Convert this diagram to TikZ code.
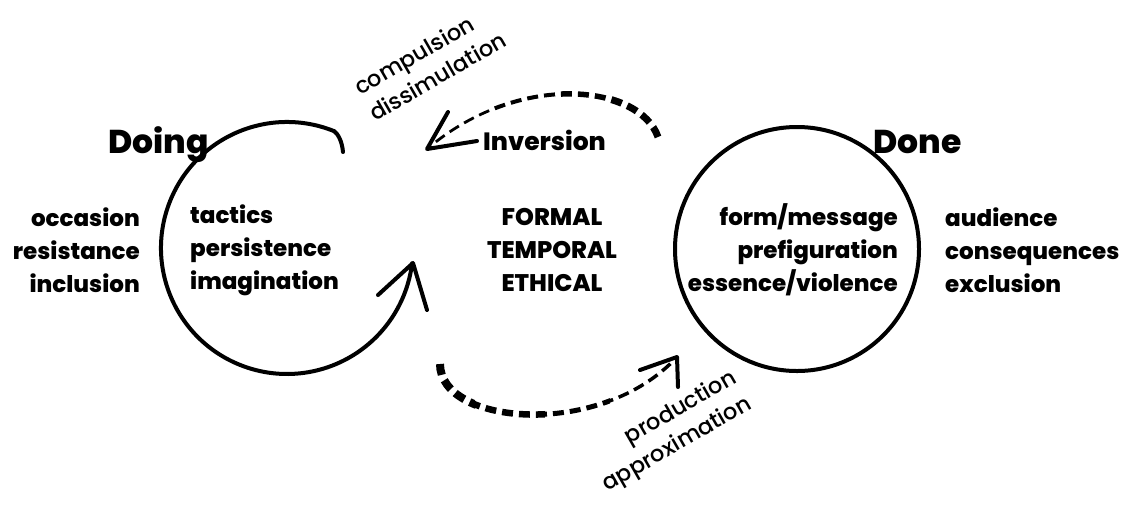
\documentclass[tikz,border=0pt]{standalone}
\usepackage{fontspec}
\setmainfont{Poppins}[UprightFont={* Medium}, BoldFont={* ExtraBold}]
\usetikzlibrary{calc}
\begin{document}
\begin{tikzpicture}[x=1pt,y=-1pt,
  lbl/.style={font=\bfseries\fontsize{23}{33}\selectfont, inner sep=0pt},
  ttl/.style={font=\bfseries\fontsize{33}{36}\selectfont, inner sep=0pt},
  rot/.style={font=\fontsize{22.5}{30}\selectfont, inner sep=0pt},
  ring/.style={line width=4pt},
  dsh/.style={dash pattern=on 11pt off 6pt},
  barb/.style={line width=4pt, line cap=round, line join=round}
]
\useasboundingbox[fill=white] (0,0) rectangle (1123,504);

% texts
\node[ttl, anchor=base west] (doing) at (108,153) {Doing};
\node[ttl, anchor=base west] (done) at (873,153) {Done};
\node[lbl, align=right, anchor=east] (ctx) at (140,250) {occasion\\resistance\\inclusion};
\node[lbl, align=left, anchor=west] (tac) at (190,250) {tactics\\persistence\\imagination};
\node[lbl, font=\bfseries\fontsize{24}{33}\selectfont, align=center] (fte) at (552,250) {FORMAL\\TEMPORAL\\ETHICAL};
\node[lbl, align=right, anchor=east] (form) at (898,250) {form/message\\prefiguration\\essence/violence};
\node[lbl, align=left, anchor=west] (aud) at (945,250) {audience\\consequences\\exclusion};
\node[lbl, font=\bfseries\fontsize{25}{33}\selectfont, anchor=west] (inv) at (483,140) {Inversion};
\node[rot, align=left, rotate=30] (comp) at (430,63) {compulsion\\dissimulation};
\node[rot, align=right, rotate=30] (prod) at (670,432) {production\\approximation};

% right circle
\node[draw, circle, line width=4pt, minimum size=244pt, inner sep=0pt] (donec) at (797,249) {};

% left ring with arrow
\coordinate (lc) at (287,248);
\coordinate (lstart) at (343,152);
\coordinate (ltip) at (413,263);
\draw[ring, line cap=round] (lstart) .. controls (342,141) and (338,134) .. ($(lc)+(-68:126)$)
  arc[start angle=-68, end angle=-353, radius=126];
\draw[barb] ($(ltip)+(-35,32)$) -- (ltip) -- ($(ltip)+(14,47)$);

% top dashed arrow (Done -> Doing)
\coordinate (t0) at (658,137);
\coordinate (t1) at (427,149);
\foreach \xa/\xb/\w in {610/720/7, 555/610/5.5, 490/555/4, 380/490/2.8}{
  \begin{scope}
    \clip (\xa,0) rectangle (\xb,220);
    \draw[line width=\w pt, dsh] (t0) .. controls (640,85) and (520,70) .. (t1);
  \end{scope}
}
\draw[barb] (448,112) -- (t1) -- (477,141);

% bottom dashed arrow (Doing -> Done)
\coordinate (b0) at (440,364);
\coordinate (b1) at (677,357);
\foreach \xa/\xb/\w in {420/475/8, 475/545/6.5, 545/610/5, 610/700/3.5}{
  \begin{scope}
    \clip (\xa,340) rectangle (\xb,460);
    \draw[line width=\w pt, dsh] (b0) .. controls (440,425) and (600,440) .. (b1);
  \end{scope}
}
\draw[barb] (640,370) -- (b1) -- (678,387);
\end{tikzpicture}
\end{document}
